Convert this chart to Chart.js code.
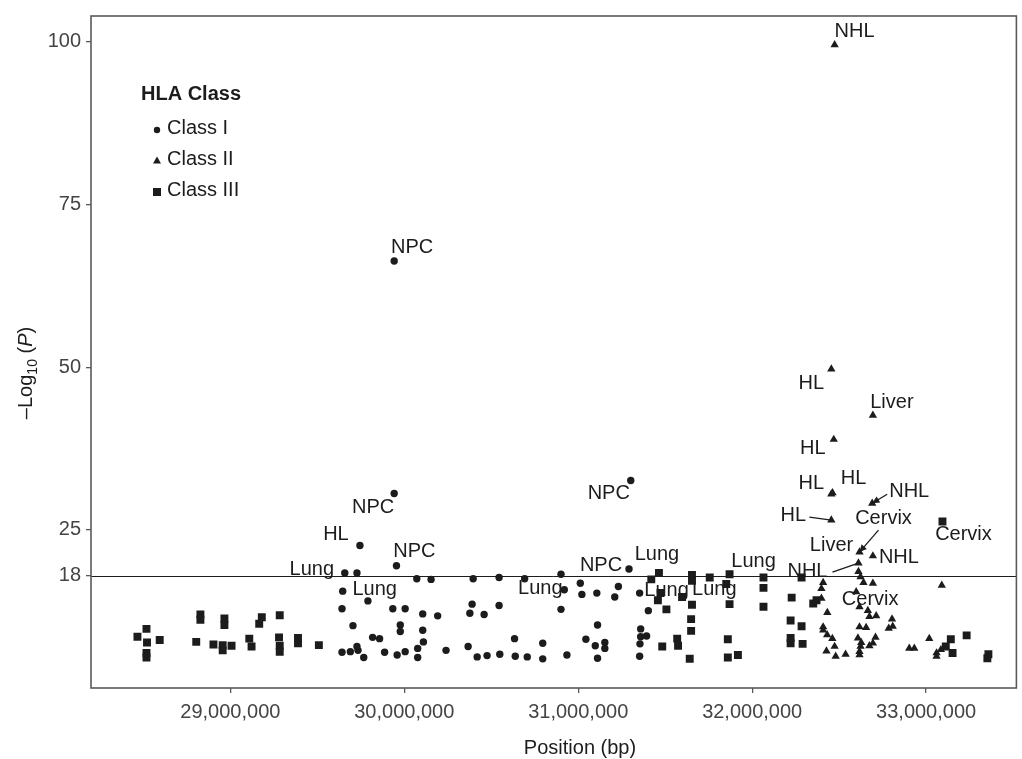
<!DOCTYPE html>
<html>
<head>
<meta charset="utf-8">
<script src="https://cdn.jsdelivr.net/npm/chart.js@4.4.1/dist/chart.umd.min.js"></script>
<style>
  html, body { margin: 0; padding: 0; background: #fff; }
  #wrap { width: 1022px; height: 759px; }
</style>
</head>
<body>
<div id="wrap"><canvas id="hla" width="1022" height="759"></canvas></div>
<script>
// ===== data =====
const xTicks = [29000000, 30000000, 31000000, 32000000, 33000000];
const yTicks = [18, 25, 50, 75, 100];
const threshold = 18;

// Class I (labelled points first)
const class1Pos = [
  29745000, 29955000, 29658000, 29646000, 29942000, 29942000, 31302000, 30920000, 31292000,
  29728000, 29791000, 29642000, 29934000, 30005000, 29705000, 29977000, 29977000, 29818000,
  29858000, 29642000, 29690000, 29728000, 29734000, 29767000, 29887000, 29959000, 30005000,
  30072000, 30154000, 30396000, 30545000, 30692000, 30901000, 31012000, 31021000, 31107000,
  31231000, 31210000, 31353000, 30106000, 30192000, 30390000, 30377000, 30459000, 30545000,
  30901000, 31403000, 30106000, 31111000, 31359000, 31359000, 31393000, 30110000, 30077000,
  30077000, 30240000, 30367000, 30419000, 30476000, 30549000, 30634000, 30638000, 30707000,
  30796000, 30796000, 30935000, 31044000, 31098000, 31153000, 31153000, 31111000, 31355000,
  31353000
];
const class1LogP = [
  22.6, 19.5, 18.4, 15.6, 66.3, 30.6, 32.6, 15.8, 19.0,
  18.4, 14.1, 12.9, 12.9, 12.9, 10.3, 10.4, 9.4, 8.5,
  8.3, 6.2, 6.3, 7.1, 6.5, 5.4, 6.2, 5.8, 6.3,
  17.5, 17.4, 17.5, 17.7, 17.5, 18.2, 16.8, 15.1, 15.3,
  16.3, 14.7, 15.3, 12.1, 11.8, 13.6, 12.2, 12.0, 13.4,
  12.8, 12.6, 9.6, 10.4, 9.8, 8.6, 8.7, 7.8, 6.8,
  5.4, 6.5, 7.1, 5.5, 5.7, 5.9, 8.3, 5.6, 5.5,
  7.6, 5.2, 5.8, 8.2, 7.2, 7.7, 6.8, 5.3, 7.5,
  5.6
];

// Class II (labelled points first)
const class2Pos = [
  32474000, 32455000, 32694000, 32469000, 32455000, 32462000, 32690000, 32455000, 32617000,
  32694000, 32611000, 32598000,
  32611000, 32623000, 32640000, 32694000, 32408000, 32398000, 32398000, 32617000, 32665000,
  32674000, 32713000, 32432000, 32408000, 32408000, 32617000, 32655000, 32804000, 32808000,
  32785000, 32431000, 32461000, 32608000, 32709000, 32694000, 32627000, 32623000, 32617000,
  32617000, 32674000, 32474000, 32427000, 32480000, 32537000, 32903000, 32932000, 33018000,
  33060000, 33060000, 33085000, 33090000
];
const class2LogP = [
  99.5, 49.7, 42.6, 38.9, 30.5, 30.7, 29.1, 26.5, 21.6,
  21.0, 19.9, 15.5,
  18.6, 17.8, 16.9, 16.8, 16.9, 16.0, 14.5, 13.2, 12.6,
  11.7, 11.8, 12.3, 10.1, 9.6, 10.1, 10.0, 11.3, 10.2,
  9.9, 8.9, 8.3, 8.4, 8.5, 7.6, 7.7, 7.1, 6.3,
  5.8, 7.2, 7.1, 6.4, 5.6, 5.9, 6.8, 6.8, 8.3,
  6.1, 5.6, 6.6, 16.5
];

// Class III (labelled points first)
const class3Pos = [
  33094000, 31464000, 31473000, 31851000, 31870000,
  28518000, 28466000, 28521000, 28594000, 28518000, 28518000, 28828000, 28828000, 28804000,
  28903000, 28966000, 28966000, 28956000, 28956000, 29007000, 29109000, 29122000, 29181000,
  29166000, 29284000, 29280000, 29284000, 29284000, 29389000, 29389000, 29509000,
  31420000, 31458000, 31654000, 31654000, 31756000, 31597000, 31654000, 31507000, 31649000,
  31649000, 31569000, 31574000, 31483000, 31641000, 31870000, 32065000, 32065000, 32065000,
  32284000, 32227000, 32351000, 32370000, 32221000, 32284000, 32221000, 32221000, 32290000,
  31860000, 31860000, 31918000, 33142000, 33233000, 33113000, 33152000, 33358000, 33352000
];
const class3LogP = [
  26.3, 18.4, 15.3, 16.7, 18.2,
  9.8, 8.6, 7.7, 8.1, 6.1, 5.4, 12.0, 11.2, 7.8,
  7.4, 11.4, 10.4, 7.3, 6.5, 7.2, 8.3, 7.1, 11.6,
  10.6, 11.9, 8.5, 7.2, 6.3, 8.4, 7.6, 7.3,
  17.4, 14.2, 18.1, 17.2, 17.7, 14.7, 13.5, 12.8, 11.3,
  9.5, 8.3, 7.2, 7.1, 5.2, 13.6, 17.7, 16.1, 13.2,
  17.7, 14.6, 13.7, 14.2, 11.1, 10.2, 8.4, 7.6, 7.5,
  8.2, 5.4, 5.8, 8.2, 8.8, 7.1, 6.1, 5.9, 5.3
];

// point labels: [dataset, index, text]
const noteRefs = [
  [0, 0, 'HL'], [0, 1, 'NPC'], [0, 2, 'Lung'], [0, 3, 'Lung'], [0, 4, 'NPC'],
  [0, 5, 'NPC'], [0, 6, 'NPC'], [0, 7, 'Lung'], [0, 8, 'NPC'],
  [1, 0, 'NHL'], [1, 1, 'HL'], [1, 2, 'Liver'], [1, 3, 'HL'], [1, 4, 'HL'], [1, 5, 'HL'],
  [1, 6, 'NHL'], [1, 7, 'HL'], [1, 8, 'Cervix'], [1, 8, 'Liver'], [1, 9, 'NHL'],
  [1, 10, 'NHL'], [1, 11, 'Cervix'],
  [2, 0, 'Cervix'], [2, 1, 'Lung'], [2, 2, 'Lung'], [2, 3, 'Lung'], [2, 4, 'Lung']
];

// ===== layout / style =====
const fontFamily = '"Liberation Sans", Arial, Helvetica, sans-serif';
const ink = '#1c1c1c';
// text offset from its point in px, then optional leader [startDx, startDy, arrowHead]
const noteOffsets = [
  [-24, -11], [18, -14], [-33, -3], [32, -2], [18, -14],
  [-21, 14], [-22, 13], [-24, -1], [-28, -4],
  [20, -13], [-20, 14], [19, -13], [-21, 9], [-20, -11], [21, -14],
  [37, -12, [15, -9, true]], [-38, -5, [-22, -3, false]], [24, -34, [19, -22, true]], [-28, -7], [26, 2],
  [-51, 8, [-26, 9, false]], [14, 8],
  [21, 13], [-2, -18], [6, -3], [-12, 6], [24, -13]
];

function toXY(xs, ys) {
  return xs.map((x, i) => ({ x: x, y: ys[i] }));
}

function arrowHead(ctx, x0, y0, x1, y1) {
  const a = Math.atan2(y1 - y0, x1 - x0);
  const len = 8, w = 0.45;
  ctx.beginPath();
  ctx.moveTo(x1, y1);
  ctx.lineTo(x1 - len * Math.cos(a - w), y1 - len * Math.sin(a - w));
  ctx.lineTo(x1 - len * Math.cos(a + w), y1 - len * Math.sin(a + w));
  ctx.closePath();
  ctx.fill();
}

const extrasPlugin = {
  id: 'extras',
  beforeDatasetsDraw(chart) {
    const ctx = chart.ctx, a = chart.chartArea;
    const y = chart.scales.y.getPixelForValue(threshold);
    ctx.save();
    ctx.strokeStyle = ink;
    ctx.lineWidth = 1;
    ctx.beginPath();
    ctx.moveTo(a.left, Math.round(y) + 0.5);
    ctx.lineTo(a.right, Math.round(y) + 0.5);
    ctx.stroke();
    ctx.restore();
  },
  afterDatasetsDraw(chart) {
    const ctx = chart.ctx, a = chart.chartArea;
    ctx.save();
    // panel box
    ctx.strokeStyle = '#5a5a5a';
    ctx.lineWidth = 1.6;
    ctx.strokeRect(a.left, a.top, a.right - a.left, a.bottom - a.top);

    // point labels
    ctx.font = '20px ' + fontFamily;
    ctx.fillStyle = ink;
    ctx.strokeStyle = ink;
    ctx.textAlign = 'center';
    ctx.textBaseline = 'middle';
    noteRefs.forEach((ref, k) => {
      const el = chart.getDatasetMeta(ref[0]).data[ref[1]];
      const off = noteOffsets[k];
      ctx.fillText(ref[2], el.x + off[0], el.y + off[1]);
      if (off[2]) {
        const sx = el.x + off[2][0], sy = el.y + off[2][1];
        ctx.lineWidth = 1.3;
        ctx.beginPath();
        ctx.moveTo(sx, sy);
        ctx.lineTo(el.x, el.y);
        ctx.stroke();
        if (off[2][2]) arrowHead(ctx, sx, sy, el.x, el.y);
      }
    });
    ctx.restore();
  },
  afterDraw(chart) {
    const ctx = chart.ctx;
    ctx.save();
    ctx.fillStyle = ink;

    // legend
    ctx.textAlign = 'left';
    ctx.textBaseline = 'middle';
    ctx.font = 'bold 20px ' + fontFamily;
    ctx.fillText('HLA Class', 141, 94);
    ctx.font = '20px ' + fontFamily;
    const items = ['Class I', 'Class II', 'Class III'];
    const rows = [128, 159, 190];
    items.forEach((t, i) => {
      const mx = 157, my = rows[i] + 2;
      ctx.beginPath();
      if (i === 0) {
        ctx.arc(mx, my, 3.2, 0, Math.PI * 2);
      } else if (i === 1) {
        ctx.moveTo(mx, my - 4.5);
        ctx.lineTo(mx + 4, my + 2.5);
        ctx.lineTo(mx - 4, my + 2.5);
        ctx.closePath();
      } else {
        ctx.rect(mx - 4, my - 4, 8, 8);
      }
      ctx.fill();
      ctx.fillText(t, 167, rows[i]);
    });

    // x title
    ctx.textAlign = 'center';
    ctx.fillText('Position (bp)', 580, 748);

    // y title: –Log10 (P)
    ctx.translate(25, 373);
    ctx.rotate(-Math.PI / 2);
    const parts = [
      ['\u2013Log', '20px ', 0],
      ['10', '14px ', 5],
      [' (', '20px ', 0],
      ['P', 'italic 20px ', 0],
      [')', '20px ', 0]
    ];
    let total = 0;
    parts.forEach(p => { ctx.font = p[1] + fontFamily; total += ctx.measureText(p[0]).width; });
    let x = -total / 2;
    ctx.textAlign = 'left';
    ctx.textBaseline = 'alphabetic';
    parts.forEach(p => {
      ctx.font = p[1] + fontFamily;
      ctx.fillText(p[0], x, 7 + p[2]);
      x += ctx.measureText(p[0]).width;
    });
    ctx.restore();
  }
};

const tickFont = { size: 20, family: fontFamily };

new Chart(document.getElementById('hla'), {
  type: 'scatter',
  data: {
    datasets: [
      { label: 'Class I', data: toXY(class1Pos, class1LogP), pointStyle: 'circle', pointRadius: 3.7,
        pointBackgroundColor: ink, backgroundColor: ink, pointBorderWidth: 0, borderWidth: 0 },
      { label: 'Class II', data: toXY(class2Pos, class2LogP), pointStyle: 'triangle', pointRadius: 4.8,
        pointBackgroundColor: ink, backgroundColor: ink, pointBorderWidth: 0, borderWidth: 0 },
      { label: 'Class III', data: toXY(class3Pos, class3LogP), pointStyle: 'rect', pointRadius: 5.6,
        pointBackgroundColor: ink, backgroundColor: ink, pointBorderWidth: 0, borderWidth: 0 }
    ]
  },
  options: {
    responsive: false,
    animation: false,
    devicePixelRatio: 1,
    events: [],
    layout: { padding: { top: 16, right: -4, left: 0, bottom: 0 } },
    plugins: { legend: { display: false }, tooltip: { enabled: false } },
    scales: {
      x: {
        type: 'linear',
        min: 28199000,
        max: 33519000,
        afterBuildTicks: s => { s.ticks = xTicks.map(v => ({ value: v })); },
        afterFit: s => { s.height = 71; s.paddingLeft = 0; s.paddingRight = 0; },
        ticks: { callback: v => v.toLocaleString('en-US'), font: tickFont, color: '#444',
                 padding: 7, maxRotation: 0, autoSkip: false },
        grid: { drawOnChartArea: false, drawTicks: true, tickLength: 5, color: '#5a5a5a', lineWidth: 1.3 },
        border: { display: false }
      },
      y: {
        type: 'linear',
        min: 0.72,
        max: 103.94,
        afterBuildTicks: s => { s.ticks = yTicks.map(v => ({ value: v })); },
        afterFit: s => { s.width = 91; s.paddingTop = 0; s.paddingBottom = 0; },
        ticks: { font: tickFont, color: '#444', padding: 5 },
        grid: { drawOnChartArea: false, drawTicks: true, tickLength: 5, color: '#5a5a5a', lineWidth: 1.3 },
        border: { display: false }
      }
    }
  },
  plugins: [extrasPlugin]
});
</script>
</body>
</html>
